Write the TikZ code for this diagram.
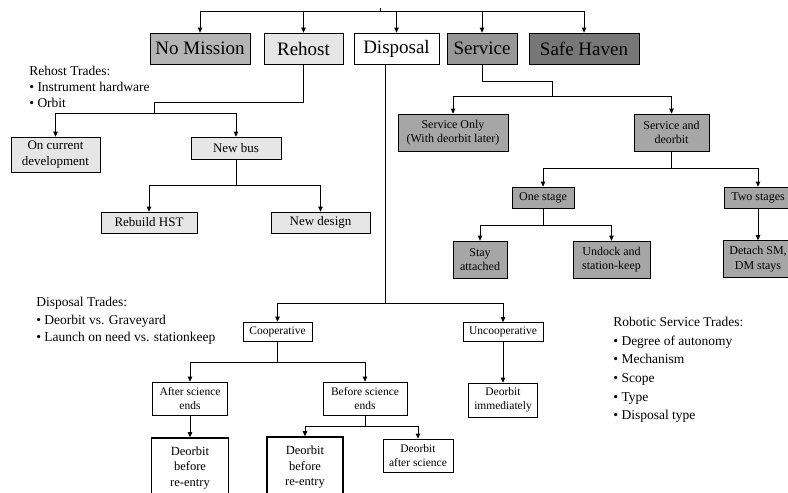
\documentclass[tikz,border=0pt]{standalone}
\usepackage{fontspec}
\setmainfont{Liberation Serif}
\usetikzlibrary{arrows.meta}
\definecolor{gNoMis}{HTML}{B4B4B4}
\definecolor{gLight}{HTML}{E6E6E6}
\definecolor{gServ}{HTML}{979797}
\definecolor{gHaven}{HTML}{777777}
\definecolor{gSrvKid}{HTML}{A6A6A6}
\begin{document}
\begin{tikzpicture}[x=1pt,y=-1pt,line width=0.8pt,
  arr/.style={-{Triangle[length=5pt,width=4.5pt]}},
  topbox/.style={draw,line width=0.8pt,inner sep=0pt,minimum height=31pt,font=\fontsize{19}{20}\selectfont},
  rbox/.style={draw,line width=0.7pt,inner sep=0pt,align=center,fill=gLight,font=\fontsize{13}{16.5}\selectfont},
  sbox/.style={draw,line width=0.7pt,inner sep=0pt,align=center,fill=gSrvKid,font=\fontsize{12}{14.5}\selectfont},
  dbox/.style={draw,line width=0.7pt,inner sep=0pt,align=center,fill=white,font=\fontsize{11.5}{13.8}\selectfont},
  thickbox/.style={draw,line width=1.6pt,inner sep=0pt,align=center,fill=white,font=\fontsize{12.5}{15.5}\selectfont},
  note/.style={anchor=base west,inner sep=0pt,font=\fontsize{13.5}{16}\selectfont}]
\useasboundingbox (0,0) rectangle (788,493);
\clip (0,0) rectangle (788,493);

% top level
\node[topbox,fill=gNoMis,minimum width=100pt] (nomission) at (200,48.5) {No Mission};
\node[topbox,fill=gLight,minimum width=79pt] (rehost) at (303.5,48.5) {Rehost};
\node[topbox,fill=white,minimum width=85pt] (disposal) at (396.5,48.5) {Disposal};
\node[topbox,fill=gServ,minimum width=70pt] (service) at (482,48.5) {Service};
\node[topbox,fill=gHaven,minimum width=110pt] (haven) at (584,48.5) {Safe Haven};

\coordinate (tl) at (200,11);
\coordinate (tr) at (584,11);
\coordinate (ttick) at (380,8);
\draw (tl) -- (tr);
\draw (ttick) -- (ttick |- tl);
\foreach \n in {nomission,rehost,disposal,service,haven}
  \draw[arr] (\n.north |- tl) -- (\n.north);

% rehost branch
\node[rbox,minimum width=89pt,minimum height=35pt] (oncur) at (55.5,154.5) {On current\\development};
\node[rbox,minimum width=90pt,minimum height=22pt] (newbus) at (236,148) {New bus};
\node[rbox,minimum width=96pt,minimum height=21pt] (rebuild) at (149,222.5) {Rebuild HST};
\node[rbox,minimum width=99pt,minimum height=21pt] (newdesign) at (320.5,222.5) {New design};
\coordinate (rj) at (154,113);
\draw (rehost.south) -- ++(0,38) -| (rj);
\draw[arr] (rj) -| (oncur.north);
\draw[arr] (rj) -| (newbus.north);
\coordinate (nbj) at (236,185);
\draw (newbus.south) -- (nbj);
\draw[arr] (nbj) -| (rebuild.north);
\draw[arr] (nbj) -| (newdesign.north);

\node[note] (rt1) at (29,75) {Rehost Trades:};
\node[note] (rt2) at (29,91) {\textbullet{} Instrument hardware};
\node[note] (rt3) at (29,107) {\textbullet{} Orbit};

% service branch
\node[sbox,minimum width=110pt,minimum height=37pt] (sonly) at (453,132.5) {Service Only\\(With deorbit later)};
\node[sbox,minimum width=75pt,minimum height=37pt] (sdeorb) at (671.5,132.5) {Service and\\deorbit};
\node[sbox,minimum width=62pt,minimum height=21pt] (onestage) at (543,197.5) {One stage};
\node[sbox,minimum width=68pt,minimum height=21pt] (twostage) at (758,197.5) {Two stages};
\node[sbox,minimum width=54pt,minimum height=37pt] (stay) at (480,259.5) {Stay\\attached};
\node[sbox,minimum width=77pt,minimum height=37pt] (undock) at (611.5,259.5) {Undock and\\station-keep};
\node[sbox,minimum width=70pt,minimum height=37pt] (detach) at (758,259) {Detach SM,\\DM stays};
\coordinate (sj) at (552,96);
\draw (service.south) -- ++(0,17) -| (sj);
\draw[arr] (sj) -| (sonly.north);
\draw[arr] (sj) -| (sdeorb.north);
\coordinate (sdj) at (671.5,168);
\draw (sdeorb.south) -- (sdj);
\draw[arr] (sdj) -| (onestage.north);
\draw[arr] (sdj) -| (twostage.north);
\coordinate (osj) at (543,225);
\draw (onestage.south) -- (osj);
\draw[arr] (osj) -| (stay.north);
\draw[arr] (osj) -| (undock.north);
\draw[arr] (twostage.south) -- (detach.north);

% disposal branch
\node[dbox,minimum width=69pt,minimum height=19pt] (coop) at (277.5,331.5) {Cooperative};
\node[dbox,minimum width=80pt,minimum height=19pt] (uncoop) at (503,332) {Uncooperative};
\node[dbox,minimum width=69pt,minimum height=34pt] (dimm) at (503,400) {Deorbit\\immediately};
\node[dbox,minimum width=75pt,minimum height=33pt] (after) at (190,398.5) {After science\\ends};
\node[dbox,minimum width=84pt,minimum height=33pt] (before) at (365,398.5) {Before science\\ends};
\node[thickbox,minimum width=77pt,minimum height=60pt] (dbr1) at (190,468) {Deorbit\\before\\re-entry};
\node[thickbox,minimum width=76pt,minimum height=61pt] (dbr2) at (305,467.5) {Deorbit\\before\\re-entry};
\node[dbox,minimum width=70pt,minimum height=33pt] (das) at (418,455.5) {Deorbit\\after science};
\coordinate (dj) at (385,303);
\draw (disposal.south -| dj) -- (dj);
\draw[arr] (dj) -| (coop.north);
\draw[arr] (dj) -| (uncoop.north);
\draw[arr] (uncoop.south) -- (dimm.north);
\coordinate (cj) at (277.5,362);
\draw (coop.south) -- (cj);
\draw[arr] (cj) -| (after.north);
\draw[arr] (cj) -| (before.north);
\draw[arr] (after.south) -- (dbr1.north);
\coordinate (bj) at (365,426);
\draw (before.south) -- (bj);
\draw[arr] (bj) -| (dbr2.north);
\draw[arr] (bj) -| (das.north);

\node[note] (dt1) at (36,306.5) {Disposal Trades:};
\node[note] (dt2) at (36,324) {\textbullet{} Deorbit vs. Graveyard};
\node[note] (dt3) at (36,341.5) {\textbullet{} Launch on need vs. stationkeep};

\node[note] (st1) at (613,326.5) {Robotic Service Trades:};
\node[note] (st2) at (613,345) {\textbullet{} Degree of autonomy};
\node[note] (st3) at (613,363.7) {\textbullet{} Mechanism};
\node[note] (st4) at (613,382.4) {\textbullet{} Scope};
\node[note] (st5) at (613,401.1) {\textbullet{} Type};
\node[note] (st6) at (613,419.8) {\textbullet{} Disposal type};
\end{tikzpicture}
\end{document}
